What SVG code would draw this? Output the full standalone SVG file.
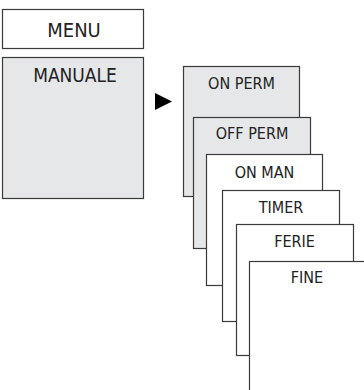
<svg xmlns="http://www.w3.org/2000/svg" width="364" height="390" viewBox="0 0 364 390">
<style>
.b{stroke:#3a3a3a;stroke-width:1.2}
.g{fill:#e6e7e9}
.w{fill:#ffffff}
text{font-family:"DejaVu Sans Condensed","Liberation Sans",Arial,sans-serif;fill:#222;text-anchor:middle}
.s{font-size:16px}
.l{font-size:19px}
.m{font-size:20px}
</style>
<rect width="364" height="390" fill="#ffffff"/>
<g id="menu"><rect class="b w" x="2.5" y="9.5" width="141" height="39"/><text class="m" x="74" y="37">MENU</text></g>
<g id="manuale"><rect class="b g" x="2.5" y="57.5" width="141" height="141"/><text class="l" x="75" y="82">MANUALE</text></g>
<g id="connectors"><polygon points="155,93 155,110 172,101.5" fill="#000"/></g>
<g id="on-perm"><rect class="b g" x="183.5" y="66.5" width="116" height="130"/><text class="s" x="241.5" y="89">ON PERM</text></g>
<g id="off-perm"><rect class="b g" x="193.5" y="117.5" width="117" height="131"/><text class="s" x="252" y="139">OFF PERM</text></g>
<g id="on-man"><rect class="b w" x="206.5" y="154.5" width="116" height="131"/><text class="s" x="264.5" y="177.5">ON MAN</text></g>
<g id="timer"><rect class="b w" x="222.5" y="190.5" width="117" height="131"/><text class="s" x="281" y="212.5">TIMER</text></g>
<g id="ferie"><rect class="b w" x="236.5" y="224.5" width="117" height="131"/><text class="s" x="294.5" y="246.5">FERIE</text></g>
<g id="fine"><rect class="b w" x="249.5" y="261.5" width="130" height="140"/><text class="s" x="307" y="283">FINE</text></g>
</svg>
